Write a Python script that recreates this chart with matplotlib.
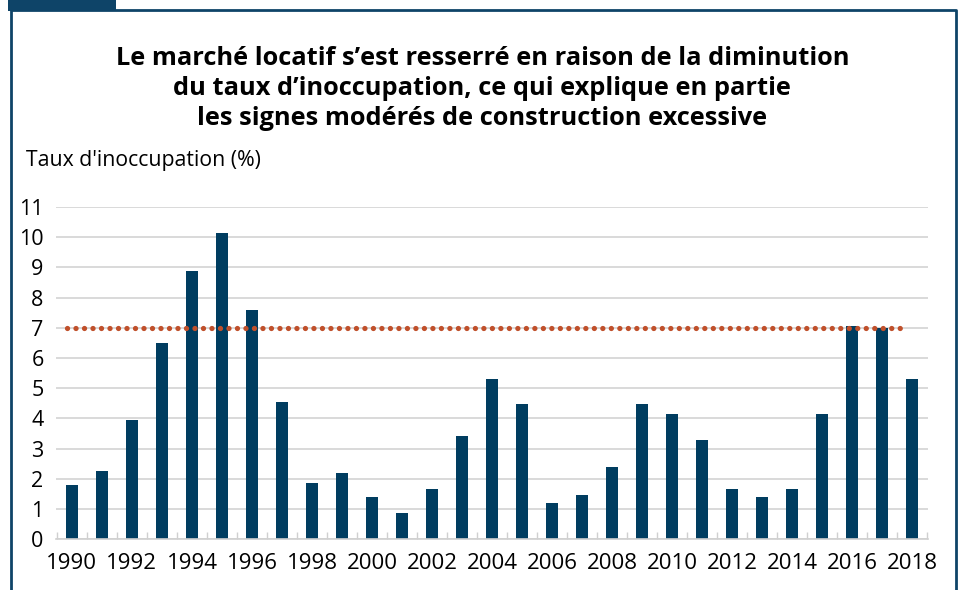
import numpy as np
import matplotlib
matplotlib.use("Agg")
import matplotlib.pyplot as plt
from matplotlib.patches import Rectangle
from matplotlib.lines import Line2D

years = list(range(1990, 2019))
vacancy = [1.80, 2.26, 3.95, 6.51, 8.87, 10.14, 7.59, 4.56, 1.87, 2.20,
           1.39, 0.86, 1.66, 3.41, 5.30, 4.49, 1.19, 1.47, 2.41, 4.49,
           4.15, 3.29, 1.66, 1.39, 1.66, 4.15, 7.05, 6.99, 5.30]
threshold = 7
tick_years = years[::2]
yticks = list(range(0, 12))

title = ("Le marché locatif s’est resserré en raison de la diminution\n"
         "du taux d’inoccupation, ce qui explique en partie\n"
         "les signes modérés de construction excessive")
ylabel = "Taux d'inoccupation (%)"

bar_color = "#003d60"
frame_color = "#0e4468"
line_color = "#c0502b"
grid_color = "#d0d0d0"

plt.rcParams["font.family"] = ["Open Sans", "DejaVu Sans"]

fig = plt.figure(figsize=(9.59, 5.90), dpi=100)
ax = fig.add_axes([0.0584, 0.0859, 0.9093, 0.5633])

ax.bar(years, vacancy, width=0.4, color=bar_color, zorder=3)
ax.plot([years[0] - 0.15, years[-1] - 0.22], [threshold, threshold],
        color=line_color, linewidth=3.8, linestyle=(0, (0.01, 1.6)),
        dash_capstyle="round", zorder=4)

ax.set_xlim(years[0] - 0.53, years[-1] + 0.53)
ax.set_ylim(0, 11)
ax.set_yticks(yticks)
ax.set_yticklabels([str(v) for v in yticks], fontsize=15.5)
ax.set_xticks(tick_years)
ax.set_xticklabels([str(y) for y in tick_years], fontsize=16)
ax.set_xticks(np.arange(years[0] - 0.5, years[-1] + 1, 1), minor=True)
ax.tick_params(axis="x", which="major", length=0, pad=10)
ax.tick_params(axis="x", which="minor", direction="in", length=5,
               width=1, color=grid_color)
ax.tick_params(axis="y", length=0, pad=9)

ax.grid(axis="y", color=grid_color, linewidth=1.1, zorder=0)
for side in ["top", "right", "left"]:
    ax.spines[side].set_visible(False)
ax.spines["bottom"].set_color(grid_color)
ax.spines["bottom"].set_linewidth(1.2)
ax.spines["bottom"].set_zorder(5)

fig.text(0.503, 0.850, title, ha="center", va="center", fontsize=18.3,
         fontweight="bold", linespacing=1.27)
fig.text(0.027, 0.728, ylabel, ha="left", va="center", fontsize=15.3)

# frame
fig.add_artist(Rectangle((8 / 959, 1 - 11 / 590), 108 / 959, 11 / 590,
                         transform=fig.transFigure, color=frame_color, lw=0))
fig.add_artist(Line2D([10.5 / 959, 10.5 / 959, 956 / 959, 956 / 959],
                      [0, 1 - 10 / 590, 1 - 10 / 590, 0],
                      transform=fig.transFigure, color=frame_color, lw=2))

fig.savefig("out.png", dpi=100)
